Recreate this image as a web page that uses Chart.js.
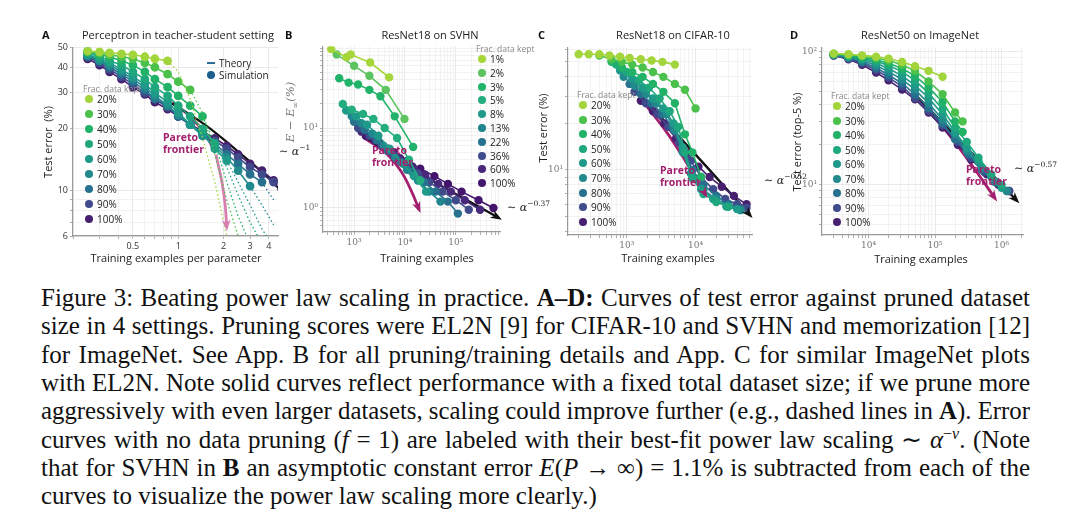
<!DOCTYPE html>
<html><head><meta charset="utf-8">
<script src="https://cdn.jsdelivr.net/npm/chart.js@4"></script>
<style>
body{margin:0;width:1080px;height:526px;background:#fff;position:relative;overflow:hidden;font-family:"Open Sans","Noto Sans",sans-serif;}
.abs{position:absolute;white-space:nowrap;}
canvas{position:absolute;}
.t{font-size:11px;color:#222;transform:translateX(-50%);}
.L{font-size:11px;font-weight:bold;color:#111;}
.xt{font-size:11px;color:#222;transform:translateX(-50%);}
.yt{font-size:11px;color:#222;transform:translate(-50%,-50%) rotate(-90deg);}
.lt{font-size:8.5px;color:#888;}
.li{font-size:10px;color:#222;display:flex;align-items:center;}
.li span{display:inline-block;width:8px;height:8px;border-radius:50%;margin-right:4px;}
.par{font-size:10.5px;font-weight:bold;color:#a3206e;line-height:12px;}
.ex{font-family:"DejaVu Serif",serif;font-size:11px;color:#222;}
.ex sup{font-size:7.5px;}
.cap{position:absolute;left:41px;width:989px;font-family:"Liberation Serif","Times New Roman",serif;font-size:25px;color:#111;text-align:justify;text-align-last:justify;white-space:nowrap;line-height:28px;transform-origin:0 0;}
.cap sup{font-size:16px;line-height:0;vertical-align:9px;}
</style></head><body>
<canvas id="cA" width="255" height="230" style="left:30px;top:40px"></canvas>
<canvas id="cB" width="240" height="230" style="left:280px;top:39px"></canvas>
<canvas id="cC" width="240" height="230" style="left:525px;top:40px"></canvas>
<canvas id="cD" width="250" height="230" style="left:779px;top:40px"></canvas>
<div id="overlay"></div>
<script>
// ---------------- DATA ----------------
const fracA = ['20%','30%','40%','50%','60%','70%','80%','90%','100%'];
const colorsA = ['#a2d53b','#4bc14c','#21b267','#1fa77e','#1f9a8a','#228a8d','#27718f','#3f4b8b','#47216f'];
const xA = [0.25,0.3,0.35,0.42,0.5,0.6,0.7,0.85,1.0,1.2,1.45,1.75,2.1,2.5,3.0,3.6,4.3];
const simA = [
 [48,47.5,47,46.5,46,45,44,43],
 [48,47,46,45,44,42,40,37,34,31],
 [47.5,46,45,43,41,38,35,32,29,26,23],
 [47,45,43,41,38,35,32,29,26,23,20,17],
 [46,44,42,39,36,33,30,27,24,21,19,16,14],
 [46,43,41,38,35,32,29,26,23.5,21,18.5,16.5,14.5,12.5,10.5],
 [45,43,40,37,34,31,28,26,23,21,19,17,15,13.5,12,11],
 [45,42,39,36,33,30,28,25.5,23,21,19,17.5,16,14.5,13,12,11],
 [44,41,38,35,32,29.5,27,25,23,21,19.5,18,16.5,15,13.5,12.5,11.2]
];
const theoryA = [
 [[0.85,43],[1.0,38],[1.2,28],[1.45,18],[1.75,11],[2.1,6]],
 [[1.2,31],[1.45,24],[1.75,15],[2.1,9],[2.5,6]],
 [[1.45,23],[1.75,17],[2.1,11],[2.5,7.5],[3.0,5.5]],
 [[1.75,17],[2.1,13],[2.5,9.5],[3.0,7],[3.6,5.5]],
 [[2.1,14],[2.5,11],[3.0,8.5],[3.6,6.5],[4.3,5.3]],
 [[3.0,10.5],[3.6,8.5],[4.3,6.8]],
 [[3.6,11],[4.3,9]],
 [[4.3,11],[4.6,10]],
 [[4.3,11.2],[4.6,10.6]]
];
const powerA = [[0.88,27],[1.5,21],[2.5,15.5],[4.0,11.5],[4.8,10]];
const paretoA = [[0.92,27],[1.2,23],[1.5,19],[1.75,15.5]];
const paretoA2 = [[1.78,15],[1.95,11],[2.05,8.5],[2.1,6.6]];
const yTicksA = [6,7,8,9,10,20,30,40,50], yLabA = [6,10,20,30,40,50];
const xTicksA = [0.2,0.3,0.4,0.5,0.6,0.7,0.8,0.9,1,2,3,4], xLabA = [0.5,1,2,3,4];

const fracB = ['1%','2%','3%','5%','8%','13%','22%','36%','60%','100%'];
const colorsB = ['#a5d63a','#5cc460','#22b36b','#24ad7f','#1f9a8a','#21868d','#27718f','#3f4b8b','#48287a','#44156d'];
const simB = [
 [[355,97],[710,77],[860,83],[2070,66],[4900,43]],
 [[455,83],[1000,60],[2000,45],[4200,30],[9800,13]],
 [[510,42],[780,37],[1200,35],[2000,30],[3300,25],[6300,14],[14500,5.8]],
 [[600,20],[900,17],[1500,15],[2400,13],[4000,10],[7000,7.5],[12000,4],[20000,2.2]],
 [[700,16.5],[1100,14],[1800,11],[3000,8],[5000,5.5],[9000,3.6],[15000,2.5],[26000,1.6]],
 [[900,14],[1400,11.5],[2300,8.5],[3800,6],[6500,4.2],[11000,3],[18000,2.2],[30000,1.6],[50000,1.2]],
 [[1000,12],[1600,9.5],[2800,7],[4600,5.2],[8000,3.8],[14000,2.8],[24000,2.1],[40000,1.6],[70000,1.2],[110000,0.85]],
 [[1200,10],[2000,8],[3500,6],[6000,4.6],[10000,3.5],[18000,2.7],[30000,2.1],[55000,1.6],[100000,1.25],[180000,0.95]],
 [[1400,9],[2500,7],[4500,5.5],[8000,4.2],[14000,3.3],[25000,2.6],[45000,2],[80000,1.6],[150000,1.25],[300000,0.95]],
 [[1700,8],[3200,6.5],[6000,5],[11000,3.9],[20000,3.1],[38000,2.5],[70000,2],[130000,1.6],[280000,1.25],[550000,1.0]]
];
const powerB = [[1500,8],[20000,2.7],[700000,0.75]];
const paretoB = [[1600,7.5],[4000,5],[8000,3],[13000,1.7],[19000,0.95]];
const yTicksB = [0.6,0.7,0.8,0.9,1,2,3,4,5,6,7,8,9,10,20,30,40,50,60,70,80,90,100], yLabB = {1:'10⁰',10:'10¹'};
const xTicksB = [300,400,500,600,700,800,900,1000,2000,3000,4000,5000,6000,7000,8000,9000,10000,20000,30000,40000,50000,60000,70000,80000,90000,100000,200000,300000,400000,500000,600000,700000], xLabB = {1000:'10³',10000:'10⁴',100000:'10⁵'};

const simC = [
 [[200,56],[280,56],[400,56],[560,55],[800,54],[1100,53],[1600,52],[2300,51],[3300,50],[5000,48]],
 [[400,55],[600,52],[850,50],[1200,48],[1700,46],[2400,43],[3400,40],[5000,36],[7000,33],[10000,25]],
 [[600,50],[850,46],[1200,43],[1700,40],[2400,36],[3400,32],[5000,27],[7000,17],[9000,13],[12000,9]],
 [[700,48],[1000,43],[1500,38],[2100,34],[3000,29],[4200,24],[5600,19],[7000,13],[9000,8.8],[13000,7],[20000,6.2],[30000,5.8]],
 [[800,44],[1200,39],[1700,34],[2400,29],[3400,25],[4800,20],[6500,14],[8500,9.5],[12000,7.5],[18000,6.5],[28000,5.8],[40000,5.6]],
 [[900,40],[1300,35],[1900,31],[2700,27],[3800,23],[5000,18],[6500,13],[9000,9],[13000,7.4],[20000,6.5],[30000,5.8],[45000,5.5]],
 [[1100,36],[1600,31],[2300,27],[3300,23],[4600,19],[6500,14],[9000,10],[13000,8],[20000,6.8],[30000,6],[45000,5.6]],
 [[1300,32],[1900,27],[2800,23],[4000,19],[5800,15],[8500,11.5],[12000,9],[18000,7.5],[27000,6.5],[40000,6],[55000,5.7]],
 [[1600,28],[2400,24],[3500,20],[5200,16],[7500,13],[11000,10.5],[16000,9],[24000,7.8],[36000,6.8],[55000,6]]
];
const powerC = [[1600,30],[8000,14],[62000,5.1]];
const paretoC = [[1700,28],[4000,17],[8000,10.5],[14000,6.9]];
const yTicksC = [4,5,6,7,8,9,10,20,30,40,50,60], yLabC = {10:'10¹'};
const xTicksC = [200,300,400,500,600,700,800,900,1000,2000,3000,4000,5000,6000,7000,8000,9000,10000,20000,30000,40000,50000,60000], xLabC = {1000:'10³',10000:'10⁴'};

const simD = [
 [[3000,97],[5000,96],[8000,94],[13000,92],[20000,89],[32000,84],[50000,78],[80000,72],[130000,65]],
 [[3000,97],[5000,95],[8000,93],[13000,90],[20000,86],[32000,80],[50000,72],[80000,60],[130000,48],[200000,35],[260000,30]],
 [[3000,96],[5000,94],[8000,91],[13000,87],[20000,82],[32000,75],[50000,66],[80000,54],[130000,42],[200000,30],[260000,25]],
 [[3000,96],[5000,93],[8000,89],[13000,85],[20000,79],[32000,71],[50000,61],[80000,49],[130000,37],[200000,27],[300000,21],[450000,16],[700000,12],[1000000,10]],
 [[3000,96],[5000,92],[8000,88],[13000,82],[20000,75],[32000,66],[50000,56],[80000,45],[130000,34],[200000,25],[300000,19],[450000,15],[700000,11.5],[1000000,9.5]],
 [[3000,95],[5000,91],[8000,86],[13000,79],[20000,71],[32000,62],[50000,52],[80000,41],[130000,31],[200000,24],[300000,18],[500000,13.5],[800000,10.5],[1200000,9]],
 [[3000,95],[5000,90],[8000,84],[13000,76],[20000,67],[32000,58],[50000,48],[80000,38],[130000,29],[200000,22],[320000,17],[500000,13],[800000,10.5],[1200000,9]],
 [[3000,94],[5000,89],[8000,82],[13000,73],[20000,64],[32000,55],[50000,45],[80000,36],[130000,28],[220000,21],[350000,16],[550000,12.5],[850000,10.5],[1300000,9]],
 [[3000,94],[5000,88],[8000,80],[13000,70],[20000,61],[32000,52],[50000,44],[80000,35],[130000,27],[220000,20],[350000,15.5],[600000,12],[900000,10],[1300000,9]]
];
const powerD = [[50000,48],[300000,19],[1700000,7.6]];
const paretoD = [[52000,46],[150000,25],[400000,13],[800000,7.9]];
const yTicksD = [5,6,7,8,9,10,20,30,40,50,60,70,80,90,100], yLabD = {10:'10¹',100:'10²'};
const xTicksD = [3000,4000,5000,6000,7000,8000,9000,10000,20000,30000,40000,50000,60000,70000,80000,90000,100000,200000,300000,400000,500000,600000,700000,800000,900000,1000000,2000000], xLabD = {10000:'10⁴',100000:'10⁵',1000000:'10⁶'};

// --------------- HELPERS ---------------
const pts = a => a.map(p => ({x:p[0], y:p[1]}));
const arrowPlugin = {id:'arrows', afterDatasetsDraw(ch){
  const c = ch.ctx;
  ch.data.datasets.forEach((ds,i)=>{
    if(!ds.arrow) return;
    const m = ch.getDatasetMeta(i).data; const n = m.length;
    const a = m[n-2], b = m[n-1];
    const ang = Math.atan2(b.y-a.y, b.x-a.x), L = ds.arrow;
    c.save(); c.fillStyle = ds.borderColor; c.beginPath();
    c.moveTo(b.x+Math.cos(ang)*L*0.4, b.y+Math.sin(ang)*L*0.4);
    c.lineTo(b.x-Math.cos(ang-0.5)*L, b.y-Math.sin(ang-0.5)*L);
    c.lineTo(b.x-Math.cos(ang)*L*0.5, b.y-Math.sin(ang)*L*0.5);
    c.lineTo(b.x-Math.cos(ang+0.5)*L, b.y-Math.sin(ang+0.5)*L);
    c.closePath(); c.fill(); c.restore();
  });
}};
function logAxis(min,max,ticks,lab,fitSize,isX,font){
  return {type:'logarithmic', min, max,
    afterBuildTicks: s => { s.ticks = ticks.map(v=>({value:v})); },
    afterFit: s => { if(isX) s.height = fitSize; else s.width = fitSize; },
    ticks:{autoSkip:false, maxRotation:0, padding:2, color: font.c, font:{family:font.f,size:font.s},
      callback:(v)=> Array.isArray(lab) ? (lab.includes(v)?String(v):'') : (lab[v]||'')},
    grid:{color: (ctx)=> (Array.isArray(lab)?lab.includes(ctx.tick.value):lab[ctx.tick.value]) ? '#e4e4e4':'#efefef', lineWidth:0.8, tickLength:3, tickColor:'#999'},
    border:{display:true,color:'#999',width:1.2}};
}
function simSets(data, cols, radius){
  return data.map((d,i)=>({data:pts(d), borderColor:cols[i], backgroundColor:cols[i], borderWidth:1.6, pointRadius:radius, pointHoverRadius:0, showLine:true}));
}
function arrowSet(d,col,w,ar){ return {data:pts(d), borderColor:col, borderWidth:w, pointRadius:0, showLine:true, tension:0.4, arrow:ar}; }
function mk(id, datasets, x, y, pad){
  new Chart(document.getElementById(id), {type:'scatter', data:{datasets},
    options:{responsive:false, animation:false, events:[], layout:{padding:pad},
      plugins:{legend:{display:false}, tooltip:{enabled:false}}, scales:{x, y}},
    plugins:[arrowPlugin]});
}
const sans = {f:'"Open Sans"', s:9, c:'#333'}, serif = {f:'"DejaVu Serif"', s:9, c:'#777'};

// Panel A
const dsA = [];
theoryA.forEach((d,i)=>dsA.push({data:pts(d), borderColor:colorsA[i], borderWidth:1.3, borderDash:[1.5,2.5], pointRadius:0, showLine:true}));
simA.forEach((ys,i)=>dsA.push({data:ys.map((v,j)=>({x:xA[j], y:v})), borderColor:colorsA[i], backgroundColor:colorsA[i], borderWidth:1.6, pointRadius:3.6, showLine:true}));
dsA.push(arrowSet(powerA,'#111',2.2,0));
dsA.push(arrowSet(paretoA,'#a3206e',2.8,0));
dsA.push(arrowSet(paretoA2,'#d77fb0',2.8,9));
mk('cA', dsA, logAxis(0.2,4.6,xTicksA,xLabA,34,true,sans), logAxis(6,50,yTicksA,yLabA,43,false,sans), {top:5,right:7});

// Panel B
const dsB = simSets(simB, colorsB, 3.4);
dsB.push(arrowSet(powerB,'#111',2.4,9));
dsB.push(arrowSet(paretoB,'#a3206e',2.8,9));
mk('cB', dsB, logAxis(245,740000,xTicksB,xLabB,37,true,serif), logAxis(0.5,105,yTicksB,yLabB,43,false,serif), {top:5,right:20});

// Panel C
const dsC = simSets(simC, colorsA, 3.4);
dsC.push(arrowSet(powerC,'#111',2.4,9));
dsC.push(arrowSet(paretoC,'#a3206e',2.8,9));
mk('cC', dsC, logAxis(140,66000,xTicksC,xLabC,35,true,serif), logAxis(3.8,62,yTicksC,yLabC,43,false,serif), {top:5,right:13});

// Panel D
const dsD = simSets(simD, colorsA, 3.4);
dsD.push(arrowSet(powerD,'#111',2.4,9));
dsD.push(arrowSet(paretoD,'#a3206e',2.8,9));
mk('cD', dsD, logAxis(2000,2100000,xTicksD,xLabD,35,true,serif), logAxis(4.2,108,yTicksD,yLabD,43,false,serif), {top:5,right:6});

// --------------- TEXT OVERLAY ---------------
let h = '';
const add = (cls, x, y, html, style='') => { h += `<div class="abs ${cls}" style="left:${x}px;top:${y}px;${style}">${html}</div>`; };
add('L',42,27,'A'); add('L',285,27,'B'); add('L',538,27,'C'); add('L',790,27,'D');
add('t',178,27,'Perceptron in teacher-student setting');
add('t',430,27,'ResNet18 on SVHN');
add('t',673,27,'ResNet18 on CIFAR-10');
add('t',920,27,'ResNet50 on ImageNet');
add('xt',176,250,'Training examples per parameter');
add('xt',427,250,'Training examples');
add('xt',668,250,'Training examples');
add('xt',921,251,'Training examples');
add('yt',47,142,'Test error&nbsp; (%)');
add('yt',291,112,'<span style="font-family:DejaVu Serif;font-style:italic;color:#777;font-size:11.5px">E − E<sub style="font-size:8px">∞</sub>(%)</span>');
add('yt',542,128,'Test error (%)');
add('yt',796,142,'Test error (top-5 %)');
function legend(x,y,dy,labels,cols){
  add('lt',x-6,y-6,'Frac. data kept');
  labels.forEach((l,i)=>add('li',x-4,y+9+i*dy-6,`<span style="background:${cols[i]}"></span>${l}`));
}
legend(89,89,15,fracA,colorsA);
legend(482,49,13.8,fracB,colorsB);
legend(583,95,14.6,fracA,colorsA);
legend(837,96,14.5,fracA,colorsA);
add('li',207,56,'<span style="width:8px;height:2px;border-radius:0;background:#2b6f9a"></span>Theory');
add('li',207,68,'<span style="background:#1f5f8e"></span>Simulation');
add('par',163,131,'Pareto<br>frontier');
add('par',372,144,'Pareto<br>frontier');
add('par',660,164,'Pareto<br>frontier');
add('par',966,163,'Pareto<br>frontier');
add('ex',279,143,'∼ <i>α</i><sup>−1</sup>');
add('ex',507,199,'∼ <i>α</i><sup>−0.37</sup>');
add('ex',764,172,'∼ <i>α</i><sup>−0.52</sup>');
add('ex',1014,160,'∼ <i>α</i><sup>−0.57</sup>');
const capLines = [
 'Figure 3: Beating power law scaling in practice. <b>A–D:</b> Curves of test error against pruned dataset',
 'size in 4 settings. Pruning scores were EL2N [9] for CIFAR-10 and SVHN and memorization [12]',
 'for ImageNet. See App. B for all pruning/training details and App. C for similar ImageNet plots',
 'with EL2N. Note solid curves reflect performance with a fixed total dataset size; if we prune more',
 'aggressively with even larger datasets, scaling could improve further (e.g., dashed lines in <b>A</b>). Error',
 'curves with no data pruning (<i>f</i> = 1) are labeled with their best-fit power law scaling ∼ <i>α</i><sup>−<i>ν</i></sup>. (Note',
 'that for SVHN in <b>B</b> an asymptotic constant error <i>E</i>(<i>P</i> → ∞) = 1.1% is subtracted from each of the',
 'curves to visualize the power law scaling more clearly.)'
];
capLines.forEach((l,i)=>{ h += `<div class="cap" id="cap${i}" style="top:${284+i*28.3}px;${i==7?'text-align-last:left;':''}"><span>${l}</span></div>`; });
document.getElementById('overlay').innerHTML = h;
capLines.forEach((l,i)=>{
  const d = document.getElementById('cap'+i), s = d.firstChild;
  const w = s.getBoundingClientRect().width;
  if (i < 7 && w > 989) { d.style.width = w+'px'; d.style.transform = `scaleX(${989/w})`; }
});
</script>
</body></html>
